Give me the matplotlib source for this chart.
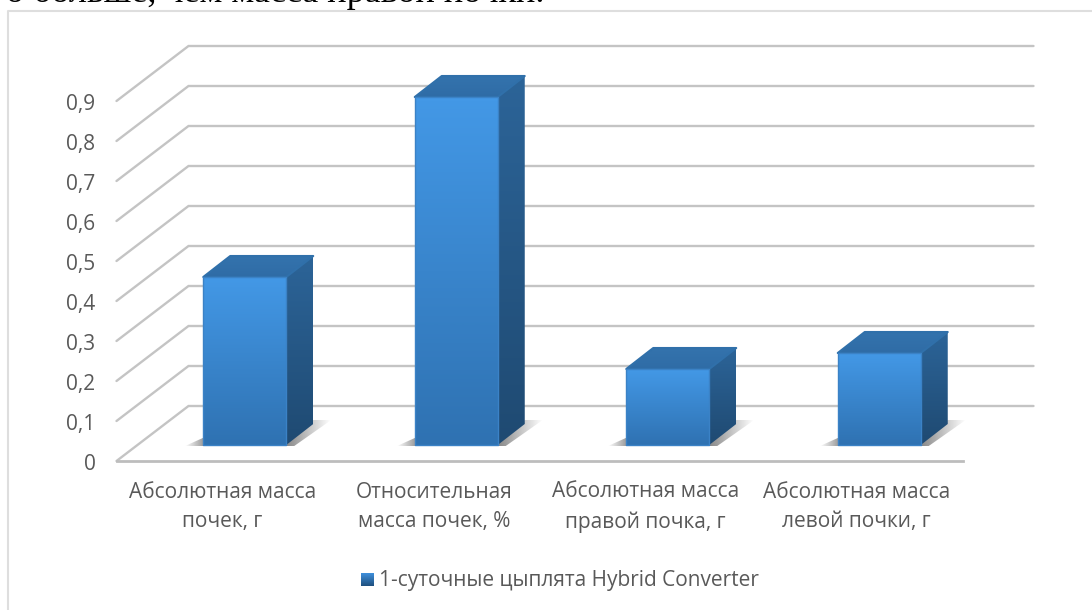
import numpy as np
import matplotlib
matplotlib.use('Agg')
import matplotlib.pyplot as plt
from matplotlib.colors import LinearSegmentedColormap
from matplotlib.patches import Polygon

categories = ['Абсолютная масса\nпочек, г', 'Относительная\nмасса почек, %',
              'Абсолютная масса\nправой почка, г', 'Абсолютная масса\nлевой почки, г']
values = [0.42, 0.87, 0.19, 0.23]
yticks = [0, 0.1, 0.2, 0.3, 0.4, 0.5, 0.6, 0.7, 0.8, 0.9]
yticklabels = ['0', '0,1', '0,2', '0,3', '0,4', '0,5', '0,6', '0,7', '0,8', '0,9']
series_name = '1-суточные цыплята Hybrid Converter'
heading = 'о больше, чем масса правой почки.'

W, H = 1092, 610
PX_X = 211.5   # пикселей на категорию
PX_Y = 400.0   # пикселей на единицу значения
X0, Y0 = 116.5, 461

fig = plt.figure(figsize=(W / 100, H / 100), dpi=100)
ax = fig.add_axes([0, 0, 1, 1])
ax.set_xlim(-X0 / PX_X, (W - X0) / PX_X)
ax.set_ylim(-(H - Y0) / PX_Y, Y0 / PX_Y)
ax.axis('off')


#   сдвиг в пикселях -> единицы данных
def ox(px):
    return px / PX_X


def oy(px):
    return px / PX_Y


def grad_face(pts, c_top, c_bot, z):
    cm = LinearSegmentedColormap.from_list('f', [c_top, c_bot])
    xs = [p[0] for p in pts]
    ys = [p[1] for p in pts]
    im = ax.imshow(np.linspace(0, 1, 64).reshape(-1, 1), cmap=cm, aspect='auto',
                   extent=[min(xs), max(xs), min(ys), max(ys)], zorder=z,
                   origin='upper', interpolation='bilinear')
    im.set_clip_path(Polygon(pts, closed=True, transform=ax.transData))


def shadow(pts, a0, a1, z):
    xs = [p[0] for p in pts]
    ys = [p[1] for p in pts]
    img = np.zeros((1, 64, 4))
    img[0, :, :3] = 0.3
    img[0, :, 3] = np.linspace(a0, a1, 64)
    im = ax.imshow(img, aspect='auto', extent=[min(xs), max(xs), min(ys), max(ys)],
                   zorder=z, interpolation='bilinear')
    im.set_clip_path(Polygon(pts, closed=True, transform=ax.transData))


# стены: линии сетки
GRID = '#c4c4c4'
for v, lab in zip(yticks, yticklabels):
    ax.plot([4 + ox(71), ox(72), 0], [v + oy(55), v + oy(55), v], color=GRID, lw=1.7,
            solid_capstyle='round', solid_joinstyle='miter', zorder=1)
    ax.text(ox(-21), v - oy(3.5), lab, ha='right', va='center',
            fontsize=15, color='#595959', family='Open Sans')
ax.plot([0, 4], [0, 0], color='#bdbdbd', lw=2.0, zorder=2)

BAR_W = ox(83)
for i, v in enumerate(values):
    fl = i + 0.5 + ox(22.5) - BAR_W / 2
    fr = fl + BAR_W
    base = oy(16)
    top = base + v
    dx2, dy2 = ox(27), oy(21)
    # тени на полу
    shadow([(fl - ox(18), base - oy(1)), (fl + ox(2), base - oy(1)), (fl + ox(2), base + oy(8))],
           0.0, 0.6, 2)
    shadow([(fr - ox(2), base - oy(1)), (fr + dx2, base + dy2 + oy(4)),
            (fr + dx2 + ox(18), base + dy2 + oy(4)), (fr + ox(8), base - oy(1))],
           0.7, 0.0, 2)
    # боковая, верхняя и передняя грани
    side = [(fr, base), (fr + dx2, base + dy2), (fr + dx2, top + dy2), (fr, top)]
    roof = [(fl, top), (fr, top), (fr + dx2, top + dy2), (fl + dx2, top + dy2)]
    grad_face(side, '#2c6498', '#1f4a72', 4)
    grad_face(roof, '#3473ad', '#2f6ca6', 4)
    ax.add_patch(Polygon(roof, closed=True, fill=False, ec='#3070aa', lw=1.5,
                         joinstyle='round', zorder=4))
    grad_face([(fl, base), (fr, base), (fr, top), (fl, top)], '#4398e6', '#2f72b2', 5)
    ax.add_patch(Polygon([(fl, base), (fr, base), (fr, top), (fl, top)], closed=True,
                         fill=False, ec='#3b82c6', lw=1, joinstyle='round', zorder=6))
    ax.text(i + 0.5, -oy(507 - Y0), categories[i], ha='center', va='center',
            fontsize=15, color='#595959', family='Open Sans', linespacing=1.55)

# рамка диаграммы: видны только левая и верхняя стороны
ax.plot([ox(7.5 - X0), ox(7.5 - X0), ox(W - X0)], [-oy(H - Y0), oy(Y0 - 10.5), oy(Y0 - 10.5)],
        color='#dedede', lw=1.5, zorder=0)

# легенда
lx0, ly0 = ox(361 - X0), -oy(579.5 - Y0)
grad_face([(lx0, ly0 - oy(6.5)), (lx0 + ox(13), ly0 - oy(6.5)),
           (lx0 + ox(13), ly0 + oy(6.5)), (lx0, ly0 + oy(6.5))], '#3f90dc', '#1f4f7e', 5)
ax.text(lx0 + ox(18), ly0 - oy(1), series_name, ha='left', va='center', fontsize=15,
        color='#595959', family='Open Sans')

# обрезанная строка текста над диаграммой
ax.text(ox(6 - X0), oy(Y0 - 2), heading, ha='left', va='baseline', fontsize=26,
        color='black', family='Liberation Serif', zorder=7)

ax.set_xlim(-X0 / PX_X, (W - X0) / PX_X)
ax.set_ylim(-(H - Y0) / PX_Y, Y0 / PX_Y)
fig.savefig('out.png', dpi=100)
